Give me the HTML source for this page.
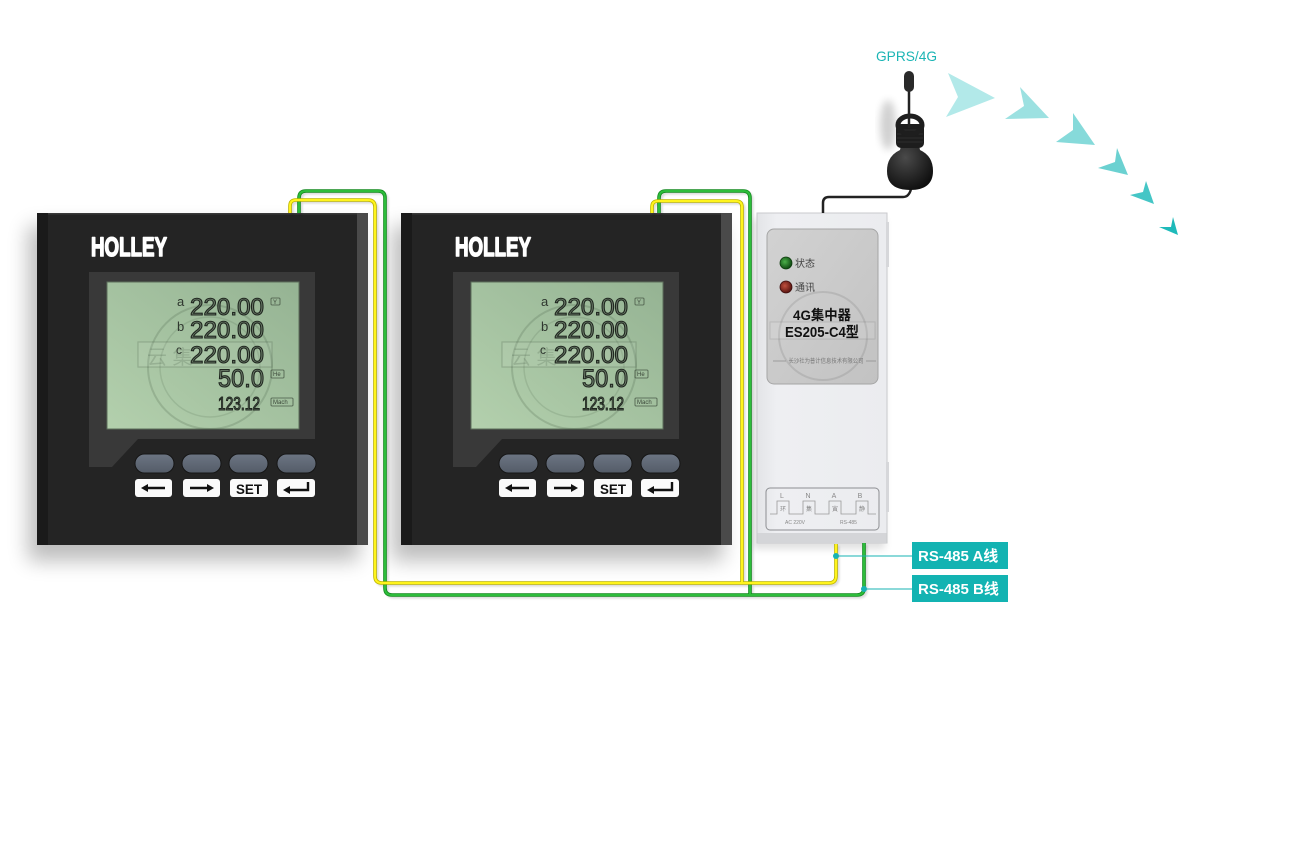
<!DOCTYPE html>
<html><head><meta charset="utf-8"><style>
html,body{margin:0;padding:0;background:#fff;}
svg{display:block;font-family:"Liberation Sans","Noto Sans CJK SC",sans-serif;}
</style></head><body>
<svg width="1300" height="849" viewBox="0 0 1300 849" xmlns="http://www.w3.org/2000/svg">
<defs>
<filter id="bl12" x="-30%" y="-30%" width="160%" height="160%"><feGaussianBlur stdDeviation="10"/></filter>
<filter id="bl4" x="-30%" y="-30%" width="160%" height="160%"><feGaussianBlur stdDeviation="4"/></filter>
<filter id="bl1" x="-10%" y="-10%" width="120%" height="120%"><feGaussianBlur stdDeviation="1"/></filter>
<linearGradient id="lcd" x1="0" y1="1" x2="1" y2="0"><stop offset="0" stop-color="#b3d0ad"/><stop offset="1" stop-color="#95b393"/></linearGradient>
<linearGradient id="btn" x1="0" y1="0" x2="0" y2="1"><stop offset="0" stop-color="#6c7583"/><stop offset="1" stop-color="#545c68"/></linearGradient>
<linearGradient id="body" x1="0" y1="0" x2="1" y2="0"><stop offset="0" stop-color="#e3e4e7"/><stop offset="0.15" stop-color="#eeeff2"/><stop offset="1" stop-color="#ebecef"/></linearGradient>
<linearGradient id="panel" x1="0" y1="0" x2="1" y2="1"><stop offset="0" stop-color="#d2d2d2"/><stop offset="1" stop-color="#c2c2c2"/></linearGradient>
<radialGradient id="ledg" cx="0.4" cy="0.4" r="0.6"><stop offset="0" stop-color="#4cb04a"/><stop offset="1" stop-color="#0f4a12"/></radialGradient>
<radialGradient id="ledr" cx="0.4" cy="0.4" r="0.6"><stop offset="0" stop-color="#c0503e"/><stop offset="1" stop-color="#5a1510"/></radialGradient>
<radialGradient id="dome" cx="0.4" cy="0.35" r="0.7"><stop offset="0" stop-color="#4a4a4a"/><stop offset="1" stop-color="#0e0e0e"/></radialGradient>
<g id="meter">
  <rect width="331" height="332" fill="#242424"/>
  <rect width="11" height="332" fill="#1a1a1a"/>
  <rect x="320" width="11" height="332" fill="#4a4a4a"/>
  <rect x="11" y="0" width="309" height="1.5" fill="#3a3a3a"/>
  <text x="54" y="43" font-size="27" font-weight="bold" fill="#fff" stroke="#fff" stroke-width="1.6" stroke-linejoin="round" textLength="76" lengthAdjust="spacingAndGlyphs">HOLLEY</text>
  <polygon points="52,59 278,59 278,226 101,226 75,254 52,254" fill="#393939"/>
  <rect x="70" y="69" width="192" height="147" fill="url(#lcd)" stroke="#5d6e5b" stroke-width="1"/>
  <circle cx="173" cy="154" r="62" fill="none" stroke="rgba(50,70,50,0.18)" stroke-width="2"/>
  <circle cx="173" cy="154" r="50" fill="none" stroke="rgba(50,70,50,0.13)" stroke-width="1.5"/>
  <rect x="101" y="129" width="134" height="25" fill="rgba(255,255,255,0.06)" stroke="rgba(50,70,50,0.22)" stroke-width="1.2"/>
  <text x="110" y="151" font-size="20" fill="rgba(60,80,60,0.2)">云 集</text>
  <g fill="#6b7c69" stroke="#1f261f" stroke-width="1.1">
    <text x="153" y="102" font-size="24" textLength="74" lengthAdjust="spacingAndGlyphs">220.00</text>
    <text x="153" y="125" font-size="24" textLength="74" lengthAdjust="spacingAndGlyphs">220.00</text>
    <text x="153" y="150" font-size="24" textLength="74" lengthAdjust="spacingAndGlyphs">220.00</text>
    <text x="181" y="174" font-size="25" textLength="46" lengthAdjust="spacingAndGlyphs">50.0</text>
    <text x="181" y="197" font-size="18" textLength="42" lengthAdjust="spacingAndGlyphs">123.12</text>
  </g>
  <g fill="#2f372f" font-size="13">
    <text x="140" y="93">a</text>
    <text x="140" y="118">b</text>
    <text x="139" y="141" font-size="12">c</text>
  </g>
  <g fill="none" stroke="#4a5a48" stroke-width="0.8">
    <rect x="234" y="85" width="9" height="7" rx="1"/>
    <rect x="234" y="157" width="13" height="8" rx="1"/>
    <rect x="234" y="185" width="22" height="8" rx="1"/>
  </g>
  <g fill="#3a4638" font-size="6">
    <text x="236" y="91">Y</text>
    <text x="236" y="163">He</text>
    <text x="236" y="191">Mach</text>
  </g>
  <g fill="url(#btn)" stroke="#161616" stroke-width="1">
    <rect x="98" y="241" width="39" height="19" rx="9.5"/>
    <rect x="145" y="241" width="39" height="19" rx="9.5"/>
    <rect x="192" y="241" width="39" height="19" rx="9.5"/>
    <rect x="240" y="241" width="39" height="19" rx="9.5"/>
  </g>
  <g fill="#fafafa">
    <rect x="98" y="266" width="37" height="18" rx="3"/>
    <rect x="146" y="266" width="37" height="18" rx="3"/>
    <rect x="193" y="266" width="38" height="18" rx="3"/>
    <rect x="240" y="266" width="38" height="18" rx="3"/>
  </g>
  <g stroke="#111" stroke-width="2.4" fill="none">
    <line x1="109" y1="275" x2="128" y2="275"/>
    <line x1="153" y1="275" x2="172" y2="275"/>
    <path d="M271,269 V277 H252"/>
  </g>
  <g fill="#111">
    <polygon points="104,275 111,271 111,279"/>
    <polygon points="177,275 170,271 170,279"/>
    <polygon points="246,277 253,273 253,281"/>
  </g>
  <text x="212" y="281" font-size="14" font-weight="bold" fill="#111" text-anchor="middle" textLength="26" lengthAdjust="spacingAndGlyphs">SET</text>
</g>
</defs>

<!-- meter shadows -->
<rect x="28" y="226" width="331" height="335" fill="#000" opacity="0.26" filter="url(#bl12)"/>
<rect x="392" y="226" width="331" height="335" fill="#000" opacity="0.26" filter="url(#bl12)"/>
<rect x="753" y="219" width="132" height="330" fill="#000" opacity="0.12" filter="url(#bl4)"/>

<!-- meters -->
<use href="#meter" x="37" y="213"/>
<use href="#meter" x="401" y="213"/>

<!-- concentrator -->
<rect x="757" y="213" width="130" height="330" fill="url(#body)" stroke="#c9cacd" stroke-width="1"/>
<rect x="757.5" y="533" width="129" height="10" fill="#d4d5d8"/>
<rect x="886" y="222" width="3" height="45" fill="#d6d7da"/>
<rect x="886" y="462" width="3" height="50" fill="#d6d7da"/>
<rect x="767" y="229" width="111" height="155" rx="7" fill="url(#panel)" stroke="#a5a5a5" stroke-width="1"/>
<circle cx="786" cy="263" r="6" fill="url(#ledg)" stroke="#0d3a0d" stroke-width="0.8"/>
<circle cx="786" cy="287" r="6" fill="url(#ledr)" stroke="#3a0d0d" stroke-width="0.8"/>
<text x="795" y="267" font-size="10" fill="#444">状态</text>
<text x="795" y="291" font-size="10" fill="#444">通讯</text>
<circle cx="823" cy="336" r="44" fill="none" stroke="rgba(0,0,0,0.09)" stroke-width="2"/>
<rect x="770" y="322" width="105" height="17" fill="rgba(255,255,255,0.08)" stroke="rgba(0,0,0,0.1)"/>
<text x="822" y="320" font-size="14" font-weight="bold" fill="#111" text-anchor="middle" textLength="58" lengthAdjust="spacingAndGlyphs">4G集中器</text>
<text x="822" y="337" font-size="15" font-weight="bold" fill="#111" text-anchor="middle" textLength="74" lengthAdjust="spacingAndGlyphs">ES205-C4型</text>
<line x1="773" y1="361" x2="786" y2="361" stroke="#888" stroke-width="0.7"/>
<line x1="866" y1="361" x2="876" y2="361" stroke="#888" stroke-width="0.7"/>
<text x="826" y="363" font-size="6" fill="#777" text-anchor="middle" textLength="75" lengthAdjust="spacingAndGlyphs">长沙社为普计信息技术有限公司</text>
<rect x="766" y="488" width="113" height="42" rx="4" fill="none" stroke="#8d8e92" stroke-width="1"/>
<g font-size="7" fill="#888" text-anchor="middle">
  <text x="782" y="498">L</text><text x="808" y="498">N</text><text x="834" y="498">A</text><text x="860" y="498">B</text>
</g>
<path d="M770,514 H777 V501 H789 V514 H803 V501 H815 V514 H829 V501 H841 V514 H856 V501 H868 V514 H876" fill="none" stroke="#999" stroke-width="0.8"/>
<g font-size="6" fill="#888" text-anchor="middle">
  <text x="783" y="511">环</text><text x="809" y="511">集</text><text x="835" y="511">寅</text><text x="862" y="511">静</text>
</g>
<text x="785" y="524" font-size="5" fill="#888">AC  220V</text>
<text x="840" y="524" font-size="5" fill="#888">RS-485</text>

<!-- wire shadows -->
<g fill="none" stroke="#000" stroke-width="3" opacity="0.15" filter="url(#bl1)" transform="translate(2,2)">
  <path d="M290,213 V206 Q290,200 296,200 H368 Q375,200 375,207 V576 Q375,583 382,583 H829 Q836,583 836,576 V544"/>
  <path d="M299,213 V198 Q299,191 306,191 H378 Q385,191 385,198 V588 Q385,595 392,595 H857 Q864,595 864,588 V543"/>
  <path d="M652,213 V207 Q652,201 658,201 H736 Q742,201 742,207 V583"/>
  <path d="M659,213 V198 Q659,191 666,191 H743 Q750,191 750,198 V595"/>
</g>
<!-- wires -->
<g fill="none" stroke-linecap="butt">
  <g stroke="#138a1f" stroke-width="3.6">
    <path d="M299,213 V198 Q299,191 306,191 H378 Q385,191 385,198 V588 Q385,595 392,595 H857 Q864,595 864,588 V543"/>
    <path d="M659,213 V198 Q659,191 666,191 H743 Q750,191 750,198 V595"/>
  </g>
  <g stroke="#2dbd3b" stroke-width="2">
    <path d="M299,213 V198 Q299,191 306,191 H378 Q385,191 385,198 V588 Q385,595 392,595 H857 Q864,595 864,588 V543"/>
    <path d="M659,213 V198 Q659,191 666,191 H743 Q750,191 750,198 V595"/>
  </g>
  <g stroke="#bdb500" stroke-width="3.6">
    <path d="M290,213 V206 Q290,200 296,200 H368 Q375,200 375,207 V576 Q375,583 382,583 H829 Q836,583 836,576 V544"/>
    <path d="M652,213 V207 Q652,201 658,201 H736 Q742,201 742,207 V583"/>
  </g>
  <g stroke="#fff41c" stroke-width="2">
    <path d="M290,213 V206 Q290,200 296,200 H368 Q375,200 375,207 V576 Q375,583 382,583 H829 Q836,583 836,576 V544"/>
    <path d="M652,213 V207 Q652,201 658,201 H736 Q742,201 742,207 V583"/>
  </g>
</g>

<!-- labels -->
<line x1="836" y1="556" x2="912" y2="556" stroke="#17b3b3" stroke-width="1"/>
<circle cx="836" cy="556" r="3" fill="#17b3b3"/>
<line x1="864" y1="589" x2="912" y2="589" stroke="#17b3b3" stroke-width="1"/>
<circle cx="864" cy="589" r="3" fill="#17b3b3"/>
<rect x="912" y="542" width="96" height="27" fill="#13b3b2"/>
<rect x="912" y="575" width="96" height="27" fill="#13b3b2"/>
<text x="918" y="561" font-size="15" font-weight="bold" fill="#fff">RS-485 A线</text>
<text x="918" y="594" font-size="15" font-weight="bold" fill="#fff">RS-485 B线</text>

<!-- antenna -->
<path d="M823,213 V203 Q823,197 829,197 H903 Q909,197 911,189" fill="none" stroke="#222" stroke-width="2.5"/>
<ellipse cx="888" cy="125" rx="8" ry="25" fill="#000" opacity="0.18" filter="url(#bl4)"/>
<path d="M902,140 H918 L920,150 Q933,156 933,171 Q933,190 910,190 Q887,190 887,171 Q887,156 900,150 Z" fill="url(#dome)"/>
<rect x="896" y="124" width="28" height="24" rx="5" fill="#1d1d1d"/>
<g stroke="#333" stroke-width="0.8">
  <line x1="897" y1="130" x2="923" y2="130"/><line x1="897" y1="134" x2="923" y2="134"/>
  <line x1="897" y1="138" x2="923" y2="138"/><line x1="897" y1="142" x2="923" y2="142"/>
</g>
<ellipse cx="910" cy="125" rx="12" ry="9" fill="none" stroke="#1e1e1e" stroke-width="5"/>
<line x1="909" y1="90" x2="909" y2="128" stroke="#222" stroke-width="2.5"/>
<rect x="904" y="71" width="10" height="21" rx="5" fill="#2a2a2a"/>
<text x="876" y="61" font-size="14" fill="#1cb5b5" textLength="61" lengthAdjust="spacingAndGlyphs">GPRS/4G</text>

<!-- signal arrows -->
<polygon points="948,73 995,98 946,117 958,97" fill="#b2e9e9"/>
<polygon points="1020,87 1049,118 1005,119 1024,106" fill="#9ce1e1"/>
<polygon points="1073,113 1095,145 1056,142 1073,130" fill="#86dada"/>
<polygon points="1117,148 1128,175 1098,168 1115,162" fill="#6bd1d1"/>
<polygon points="1146,181 1154,204 1130,195 1143,192" fill="#45c6c6"/>
<polygon points="1173,217 1178,235 1159,227 1171,227" fill="#1ebaba"/>
</svg>
</body></html>
